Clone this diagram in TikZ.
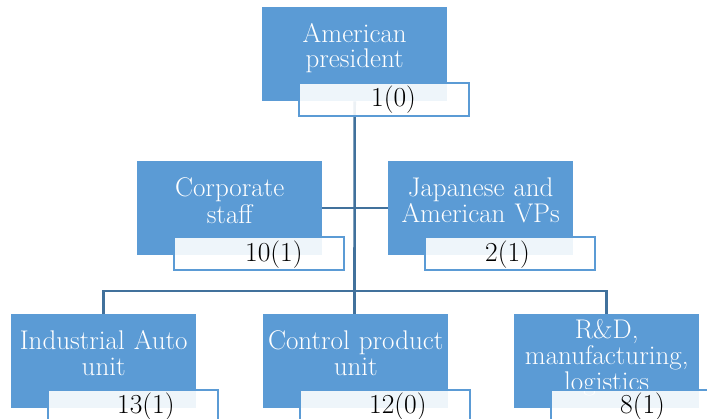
\documentclass[tikz,border=0pt]{standalone}
\usepackage{fontspec}
\setmainfont{Latin Modern Roman}
\usetikzlibrary{calc}
\definecolor{boxblue}{HTML}{5B9BD5}
\definecolor{connblue}{HTML}{41719C}
\begin{document}
\begin{tikzpicture}[x=1pt,y=1pt,
  conn/.style={draw=connblue,line width=2.6pt},
  unitbox/.style={fill=boxblue,minimum width=185pt,minimum height=94pt,inner sep=0pt,anchor=north west},
  unittext/.style={text=white,text width=185pt,align=center,inner sep=0pt,anchor=base,
    font=\fontsize{27}{#1}\selectfont},
  countbox/.style={draw=boxblue,line width=1.6pt,fill=white,fill opacity=0.9,
    minimum width=170pt,minimum height=33pt,inner sep=0pt,anchor=north west},
  counttext/.style={text=black,inner sep=0pt,anchor=base west,font=\fontsize{27.5}{30}\selectfont}]
\useasboundingbox (0,0) rectangle (707,418);
\clip (0,0) rectangle (707,418);

% unit boxes
\node[unitbox] (pres) at (262,411) {};
\node[unitbox] (corp) at (137,257) {};
\node[unitbox] (jap)  at (388,257) {};
\node[unitbox] (ind)  at (11,104)  {};
\node[unitbox] (ctrl) at (263,104) {};
\node[unitbox] (rd)   at (514,104) {};

% connectors
\coordinate (hub) at (354.5,127);
\draw[conn] (pres.south) -- (hub);
\draw[conn] (corp.east) -- (jap.west);
\draw[conn] (ind.north) |- (hub) -| (rd.north);
\draw[conn] (hub) -- (hub |- ctrl.north);

% unit names
\node[unittext=24.5] (pres-t) at ($(pres.north)+(0,-36)$) {American\\president};
\node[unittext=27] (corp-t) at ($(corp.north)+(0,-36)$) {Corporate\\staff};
\node[unittext=26] (jap-t)  at ($(jap.north)+(0,-36)$)  {Japanese and\\American VPs};
\node[unittext=25] (ind-t)  at ($(ind.north)+(0,-36)$)  {Industrial Auto\\unit};
\node[unittext=25] (ctrl-t) at ($(ctrl.north)+(0,-36)$) {Control product\\unit};
\node[unittext=26] (rd-t)   at ($(rd.north)+(0,-24)$)   {R\&D,\\manufacturing,\\logistics};

% head-count boxes
\node[countbox] (pres-c) at ($(pres.north west)+(36,-75)$) {};
\node[countbox] (corp-c) at ($(corp.north west)+(36,-75)$) {};
\node[countbox] (jap-c)  at ($(jap.north west)+(36,-75)$)  {};
\node[countbox] (ind-c)  at ($(ind.north west)+(36,-75)$)  {};
\node[countbox] (ctrl-c) at ($(ctrl.north west)+(36,-75)$) {};
\node[countbox] (rd-c)   at ($(rd.north west)+(36,-75)$)   {};

% head counts
\node[counttext] (pres-n) at ($(pres-c.north west)+(73,-25)$) {1(0)};
\node[counttext] (corp-n) at ($(corp-c.north west)+(72,-26)$) {10(1)};
\node[counttext] (jap-n)  at ($(jap-c.north west)+(61,-26)$)  {2(1)};
\node[counttext] (ind-n)  at ($(ind-c.north west)+(70,-24)$)  {13(1)};
\node[counttext] (ctrl-n) at ($(ctrl-c.north west)+(70,-24)$) {12(0)};
\node[counttext] (rd-n)   at ($(rd-c.north west)+(70,-24)$)   {8(1)};
\end{tikzpicture}
\end{document}
